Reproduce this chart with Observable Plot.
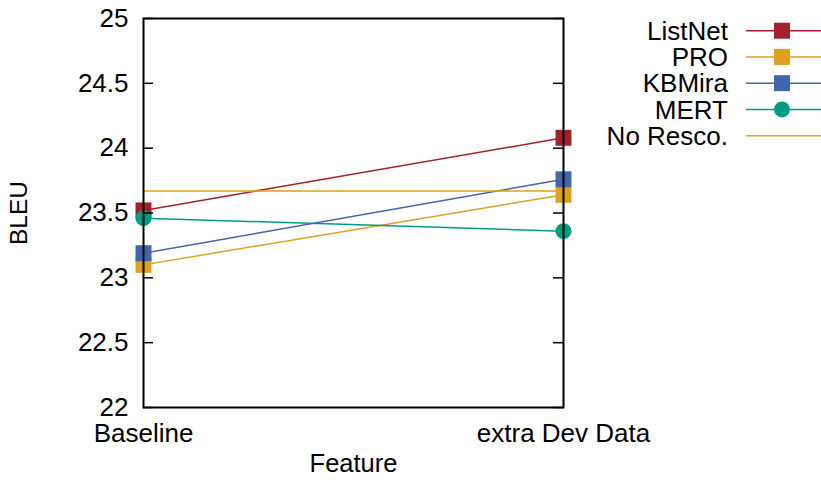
<!DOCTYPE html>
<html>
<head>
<meta charset="utf-8">
<script src="https://cdn.jsdelivr.net/npm/d3@7"></script>
<script src="https://cdn.jsdelivr.net/npm/@observablehq/plot@0.6"></script>
<style>
  html, body { margin: 0; padding: 0; background: #fff; }
  #wrap { position: relative; width: 821px; height: 484px; font-family: "Liberation Sans", Arial, Helvetica, sans-serif; }
  #legend { position: absolute; left: 600px; top: 0px; }
</style>
</head>
<body>
<div id="wrap"><div id="chart"></div><div id="legend"></div></div>
<script>
// ---- data ----
const categories = ["Baseline", "extra Dev Data"];
const seriesNames = ["ListNet", "PRO", "KBMira", "MERT"];
const listNet = [23.52, 24.08];
const pro     = [23.10, 23.64];
const kbMira  = [23.19, 23.76];
const mert    = [23.46, 23.36];
const noRescoLabel = "No Resco.";
const noResco = 23.67;
const yTicks = [22, 22.5, 23, 23.5, 24, 24.5, 25];

const seriesValues = { "ListNet": listNet, "PRO": pro, "KBMira": kbMira, "MERT": mert };
const seriesColors = { "ListNet": "#a2202b", "PRO": "#dea01f", "KBMira": "#4464ad", "MERT": "#009b80" };
const seriesSymbols = { "ListNet": "square", "PRO": "square", "KBMira": "square", "MERT": "circle" };
const noRescoColor = "#dea01f";

const rows = seriesNames.flatMap(s => categories.map((c, i) => ({ series: s, cat: c, value: seriesValues[s][i] })));

const marks = [];
for (const s of seriesNames) {
  const d = rows.filter(r => r.series === s);
  marks.push(Plot.line(d, { x: "cat", y: "value", stroke: seriesColors[s], strokeWidth: 1.5 }));
  marks.push(Plot.dot(d, { x: "cat", y: "value", symbol: seriesSymbols[s], r: seriesSymbols[s] === "circle" ? 8 : 9, fill: seriesColors[s], stroke: "none" }));
}
marks.push(Plot.ruleY([noResco], { stroke: noRescoColor, strokeWidth: 1.5 }));

const chart = Plot.plot({
  width: 821,
  height: 484,
  marginLeft: 143,
  marginRight: 258,
  marginTop: 18,
  marginBottom: 77,
  style: { fontSize: "26px", fontFamily: "Liberation Sans, Arial, Helvetica, sans-serif", background: "#fff", color: "#000", overflow: "visible" },
  x: { type: "point", domain: categories, padding: 0 },
  y: { domain: [22, 25] },
  marks: [
    ...marks,
    Plot.tickY(yTicks, { y: d => d, insetRight: 410, stroke: "#000", strokeWidth: 1.5 }),
    Plot.tickY(yTicks, { y: d => d, insetLeft: 410, stroke: "#000", strokeWidth: 1.5 }),
    Plot.frame({ stroke: "#000", strokeWidth: 2 }),
    Plot.axisY({ ticks: yTicks, tickSize: 0, tickPadding: 15, tickFormat: d => String(d), label: null, fontSize: 26 }),
    Plot.axisX({ tickSize: 0, tickPadding: 16, label: null, fontSize: 26 }),
    Plot.text(["BLEU"], { frameAnchor: "left", textAnchor: "middle", lineAnchor: "middle", dx: -124, rotate: -90, fontSize: 24.5 }),
    Plot.text(["Feature"], { frameAnchor: "bottom", textAnchor: "middle", dy: 64, fontSize: 25.5 })
  ]
});
document.getElementById("chart").appendChild(chart);

// ---- legend ----
const legendItems = [
  ...seriesNames.map(s => ({ label: s, color: seriesColors[s], symbol: seriesSymbols[s] })),
  { label: noRescoLabel, color: noRescoColor, symbol: null }
];
const lsvg = d3.select("#legend").append("svg")
  .attr("width", 221).attr("height", 160)
  .style("font-family", "Liberation Sans, Arial, Helvetica, sans-serif")
  .style("font-size", "26px");
const g = lsvg.selectAll("g").data(legendItems).join("g")
  .attr("transform", (d, i) => `translate(0,${30.7 + i * 26.25})`);
g.append("text").attr("x", 128).attr("dy", "0.35em").attr("text-anchor", "end").attr("fill", "#000").text(d => d.label);
g.append("line").attr("x1", 146).attr("x2", 221).attr("stroke", d => d.color).attr("stroke-width", 1.5);
g.filter(d => d.symbol === "square").append("rect").attr("x", 182 - 8).attr("y", -8).attr("width", 16).attr("height", 16).attr("fill", d => d.color);
g.filter(d => d.symbol === "circle").append("circle").attr("cx", 182).attr("r", 8).attr("fill", d => d.color);
</script>
</body>
</html>
